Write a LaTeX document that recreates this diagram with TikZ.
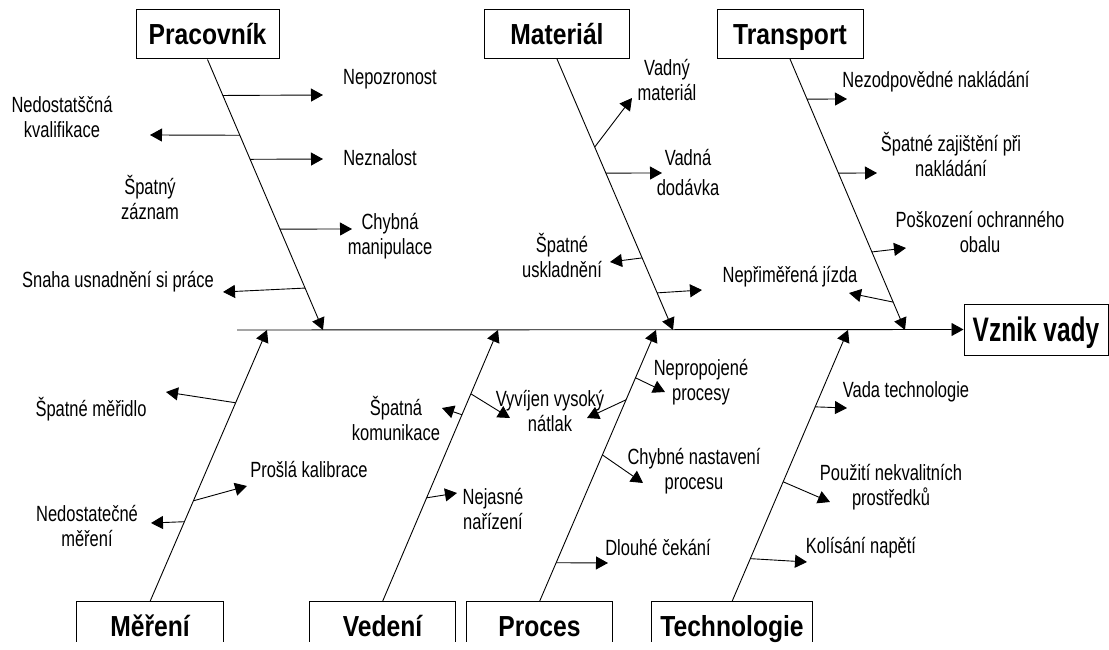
\documentclass[tikz,border=0pt]{standalone}
\usepackage{fontspec}
\setmainfont{Liberation Sans}[FakeStretch=0.75]
\newfontfamily\headfont{Liberation Sans}[FakeStretch=0.85]
\newfontfamily\effectfont{Liberation Sans}[FakeStretch=0.72]
\usetikzlibrary{arrows.meta,calc}

\begin{document}
\begin{tikzpicture}[x=1pt,y=-1pt,
  line width=0.9pt,
  tip/.style={-{Triangle[length=12pt,width=13pt]}},
  headbox/.style={draw, line width=1pt, minimum height=49pt, inner sep=0pt,
    text height=20.8pt, text depth=0pt,
    font=\headfont\bfseries\fontsize{29}{33}\selectfont},
  footbox/.style={minimum height=48pt, inner sep=0pt,
    text height=20.8pt, text depth=0pt,
    font=\headfont\bfseries\fontsize{29}{33}\selectfont},
  effbox/.style={draw, line width=1pt, minimum height=51pt, inner sep=0pt,
    text height=24.3pt, text depth=0pt,
    font=\effectfont\bfseries\fontsize{34}{38}\selectfont},
  lbl/.style={align=center, inner sep=0pt, font=\fontsize{22}{25}\selectfont},
]
\fill[white] (0,0) rectangle (1109,650);
\useasboundingbox (0,0) rectangle (1109,650);
\clip (0,0) rectangle (1109,650);

% category boxes
\node[headbox, minimum width=143pt] (prac) at (207.5,34.5) {Pracovník};
\node[headbox, minimum width=145pt] (mat) at (557,34) {Materiál};
\node[headbox, minimum width=146pt] (trans) at (790,34) {Transport};
\node[effbox, minimum width=144pt] (vznik) at (1036,329.5) {Vznik vady};
\node[footbox, minimum width=146pt] (mer) at (150,626) {Měření};
\node[footbox, minimum width=145pt] (ved) at (382.5,626) {Vedení};
\node[footbox, minimum width=145pt] (proc) at (539.5,626) {Proces};
\node[footbox, minimum width=160pt] (tech) at (732,626) {Technologie};
\foreach \n in {mer,ved,proc,tech}
  \draw[line width=1pt] (\n.north west) ++(0,40) |- (\n.north east) -- ++(0,40);

% spine
\coordinate (spine) at (237,330);
\coordinate (sp1) at (323,330);
\coordinate (sp2) at (673,330);
\coordinate (sp3) at (905,330);
\coordinate (sb1) at (267,330);
\coordinate (sb2) at (498,330);
\coordinate (sb3) at (656,330);
\coordinate (sb4) at (848,330);
\draw[tip] (spine) -- (vznik.west);

% main branches
\draw[tip] (prac.south) -- (sp1);
\draw[tip] (mat.south) -- (sp2);
\draw[tip] (trans.south) -- (sp3);
\draw[tip] (mer.north) -- (sb1);
\draw[tip] (ved.north) -- (sb2);
\draw[tip] (proc.north) -- (sb3);
\draw[tip] (tech.north) -- (sb4);

% cause labels
\node[lbl] (l11) at (390,79) {Nepozronost};
\node[lbl] (l12) at (62,117) {Nedostatščná\\kvalifikace};
\node[lbl] (l13) at (380,158) {Neznalost};
\node[lbl] (l14) at (150,197) {Špatný\\záznam};
\node[lbl] (l15) at (390,236) {Chybná\\manipulace};
\node[lbl] (l16) at (118,282) {Snaha usnadnění si práce};

\node[lbl] (l21) at (667,80) {Vadný\\materiál};
\node[lbl] (l22) at (688,173) {Vadná\\[5pt]dodávka};
\node[lbl] (l23) at (562,255) {Špatné\\uskladnění};

\node[lbl] (l31) at (936,82) {Nezodpovědné nakládání};
\node[lbl] (l32) at (951,154) {Špatné zajištění při\\nakládání};
\node[lbl] (l33) at (980,232) {Poškození ochranného\\obalu};
\node[lbl] (l34) at (790,277) {Nepřiměřená jízda};

\node[lbl] (l41) at (91,409) {Špatné měřidlo};
\node[lbl] (l42) at (309,470) {Prošlá kalibrace};
\node[lbl] (l43) at (87,526) {Nedostatečné\\měření};

\node[lbl] (l51) at (396,418) {Špatná\\komunikace};
\node[lbl] (l52) at (550,411) {Vyvíjen vysoký\\nátlak};
\node[lbl] (l53) at (493,509) {Nejasné\\nařízení};

\node[lbl] (l61) at (701,382) {Nepropojené\\procesy};
\node[lbl] (l62) at (694,471) {Chybné nastavení\\procesu};
\node[lbl] (l63) at (658,548) {Dlouhé čekání};

\node[lbl] (l71) at (906,392) {Vada technologie};
\node[lbl] (l72) at (891,487) {Použití nekvalitních\\prostředků};
\node[lbl] (l73) at (861,548) {Kolísání napětí};

% arrow ends next to the labels
\coordinate (e11) at (323,95);
\coordinate (e12) at (150,135);
\coordinate (e13) at (323,159);
\coordinate (e15) at (352,229);
\coordinate (e16) at (223,292);
\coordinate (e21) at (632,98);
\coordinate (e22) at (662,173);
\coordinate (e23) at (610,262);
\coordinate (e24) at (702,290);
\coordinate (e31) at (847,99);
\coordinate (e32) at (877,173);
\coordinate (e33) at (906,248);
\coordinate (e34) at (849,293);
\coordinate (e41) at (166,392);
\coordinate (e42) at (247,486);
\coordinate (e43) at (151,523);
\coordinate (e51) at (442,408);
\coordinate (e52) at (510,418);
\coordinate (e53) at (457,493);
\coordinate (e61) at (665,392);
\coordinate (e62) at (587,418);
\coordinate (e63) at (643,483);
\coordinate (e64) at (608,563);
\coordinate (e71) at (847,408);
\coordinate (e72) at (830,502);
\coordinate (e73) at (807,562);

% sub-cause arrows
\draw[tip] ($(prac.south)!0.133!(sp1)$) -- (e11);
\draw[tip] ($(prac.south)!0.280!(sp1)$) -- (e12);
\draw[tip] ($(prac.south)!0.369!(sp1)$) -- (e13);
\draw[tip] ($(prac.south)!0.627!(sp1)$) -- (e15);
\draw[tip] ($(prac.south)!0.845!(sp1)$) -- (e16);

\draw[tip] ($(mat.south)!0.325!(sp2)$) -- (e21);
\draw[tip] ($(mat.south)!0.421!(sp2)$) -- (e22);
\draw[tip] ($(mat.south)!0.734!(sp2)$) -- (e23);
\draw[tip] ($(mat.south)!0.863!(sp2)$) -- (e24);

\draw[tip] ($(trans.south)!0.148!(sp3)$) -- (e31);
\draw[tip] ($(trans.south)!0.421!(sp3)$) -- (e32);
\draw[tip] ($(trans.south)!0.712!(sp3)$) -- (e33);
\draw[tip] ($(trans.south)!0.897!(sp3)$) -- (e34);

\draw[tip] ($(mer.north)!0.732!(sb1)$) -- (e41);
\draw[tip] ($(mer.north)!0.371!(sb1)$) -- (e42);
\draw[tip] ($(mer.north)!0.294!(sb1)$) -- (e43);

\draw[tip] ($(ved.north)!0.688!(sb2)$) -- (e51);
\draw[tip] ($(ved.north)!0.765!(sb2)$) -- (e52);
\draw[tip] ($(ved.north)!0.382!(sb2)$) -- (e53);

\draw[tip] ($(proc.north)!0.824!(sb3)$) -- (e61);
\draw[tip] ($(proc.north)!0.743!(sb3)$) -- (e62);
\draw[tip] ($(proc.north)!0.540!(sb3)$) -- (e63);
\draw[tip] ($(proc.north)!0.143!(sb3)$) -- (e64);

\draw[tip] ($(tech.north)!0.717!(sb4)$) -- (e71);
\draw[tip] ($(tech.north)!0.441!(sb4)$) -- (e72);
\draw[tip] ($(tech.north)!0.158!(sb4)$) -- (e73);
\end{tikzpicture}
\end{document}
